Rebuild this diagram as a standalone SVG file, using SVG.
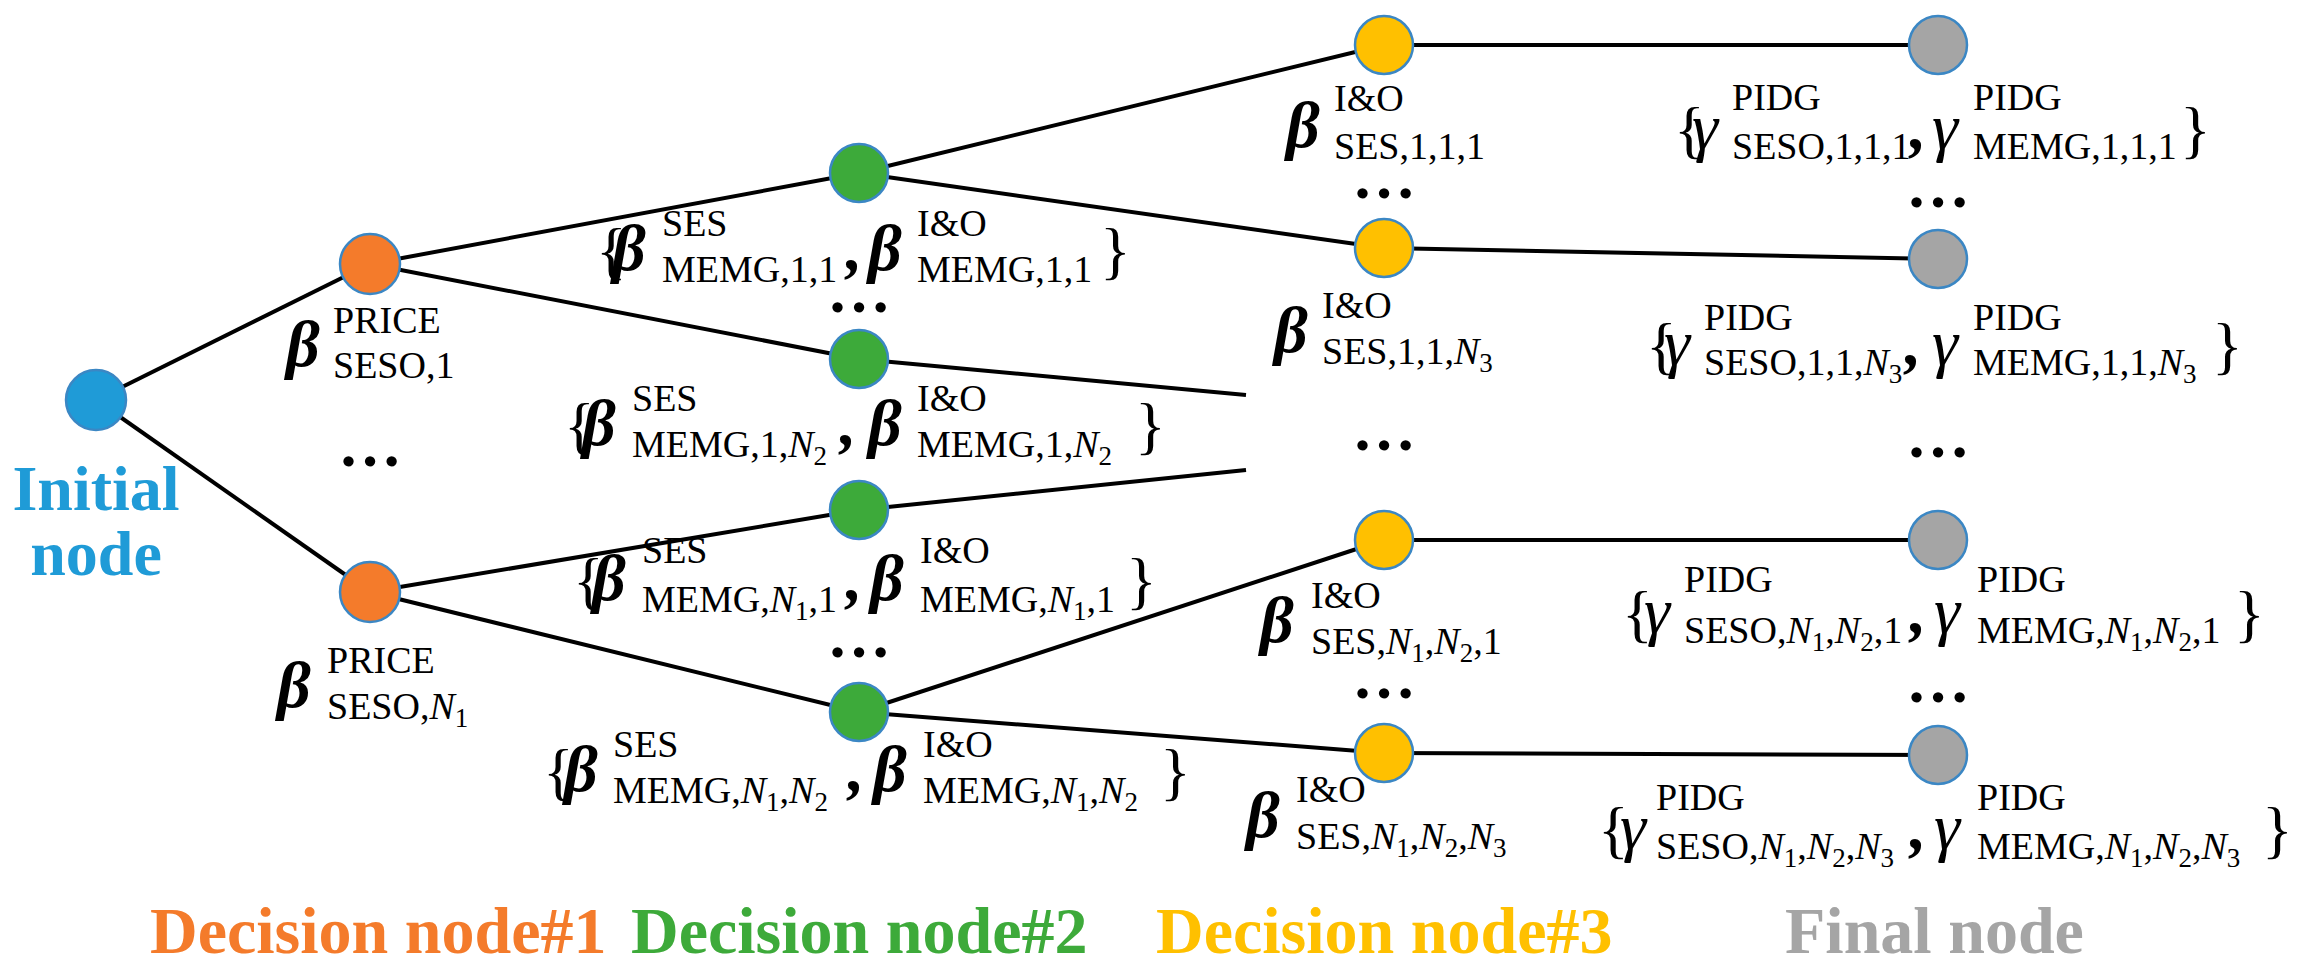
<svg xmlns="http://www.w3.org/2000/svg" width="2297" height="977" viewBox="0 0 2297 977" font-family="'Liberation Serif','DejaVu Serif','Times New Roman',serif">
<style>
text{font-family:'Liberation Serif','DejaVu Serif','Times New Roman',serif;fill:#000}
.b{font-size:66px;font-weight:bold;font-style:italic}
.g{font-size:66px;font-style:italic}
.s{font-size:38px}
.br{font-size:64px}
.i{font-style:italic}
.t{font-size:27px}
.d{font-size:64px;font-weight:bold;text-anchor:middle}
.lg{font-size:66px;font-weight:bold}
line{stroke:#000;stroke-width:4}
circle{stroke:#3B87C4;stroke-width:2.5}
</style>
<rect width="2297" height="977" fill="#fff"/>
<g id="connectors">
<line x1="96" y1="400" x2="370" y2="264"/><line x1="96" y1="400" x2="370" y2="592"/>
<line x1="370" y1="264" x2="859" y2="173"/><line x1="370" y1="264" x2="859" y2="359"/>
<line x1="370" y1="592" x2="859" y2="510"/><line x1="370" y1="592" x2="859" y2="712"/>
<line x1="859" y1="173" x2="1384" y2="45"/><line x1="859" y1="173" x2="1384" y2="248"/>
<line x1="859" y1="359" x2="1246" y2="395"/><line x1="1246" y1="470" x2="859" y2="510"/>
<line x1="859" y1="712" x2="1384" y2="540"/><line x1="859" y1="712" x2="1384" y2="753"/>
<line x1="1384" y1="45" x2="1938" y2="45"/><line x1="1384" y1="248" x2="1938" y2="259"/>
<line x1="1384" y1="540" x2="1938" y2="540"/><line x1="1384" y1="753" x2="1938" y2="755"/>
</g>
<g id="n0"><circle cx="96" cy="400" r="30" fill="#1F9BD7"/>
<text x="96" y="510" text-anchor="middle" style="font-size:64px;font-weight:bold;fill:#1F9BD7">Initial</text>
<text x="96" y="575" text-anchor="middle" style="font-size:64px;font-weight:bold;fill:#1F9BD7">node</text></g>
<g id="o1"><circle cx="370" cy="264" r="30" fill="#F47B2B"/>
<text x="286" y="366" class="b">β</text><text x="333" y="333" class="s">PRICE</text><text x="333" y="378" class="s">SESO,1</text></g>
<g id="o2"><circle cx="370" cy="592" r="30" fill="#F47B2B"/>
<text x="277" y="707" class="b">β</text><text x="327" y="673" class="s">PRICE</text><text x="327" y="719" class="s">SESO,<tspan class="i">N</tspan><tspan class="t" dy="8">1</tspan></text></g>
<text x="370" y="466" class="d">…</text>
<g id="g1"><circle cx="859" cy="173" r="29" fill="#3DAA3A"/>
<text x="596" y="272" class="br">{</text><text x="612" y="270" class="b">β</text><text x="662" y="236" class="s">SES</text><text x="662" y="282" class="s">MEMG,1,1</text>
<text x="846" y="270" class="b">,</text><text x="868" y="270" class="b">β</text><text x="917" y="236" class="s">I&amp;O</text><text x="917" y="282" class="s">MEMG,1,1</text><text x="1100" y="272" class="br">}</text></g>
<text x="859" y="312" class="d">…</text>
<g id="g2"><circle cx="859" cy="359" r="29" fill="#3DAA3A"/>
<text x="564" y="447" class="br">{</text><text x="582" y="445" class="b">β</text><text x="632" y="411" class="s">SES</text><text x="632" y="457" class="s">MEMG,1,<tspan class="i">N</tspan><tspan class="t" dy="8">2</tspan></text>
<text x="840" y="445" class="b">,</text><text x="868" y="445" class="b">β</text><text x="917" y="411" class="s">I&amp;O</text><text x="917" y="457" class="s">MEMG,1,<tspan class="i">N</tspan><tspan class="t" dy="8">2</tspan></text><text x="1135" y="447" class="br">}</text></g>
<g id="g3"><circle cx="859" cy="510" r="29" fill="#3DAA3A"/>
<text x="573" y="602" class="br">{</text><text x="592" y="600" class="b">β</text><text x="642" y="563" class="s">SES</text><text x="642" y="612" class="s">MEMG,<tspan class="i">N</tspan><tspan class="t" dy="8">1</tspan><tspan dy="-8">,1</tspan></text>
<text x="846" y="600" class="b">,</text><text x="870" y="600" class="b">β</text><text x="920" y="563" class="s">I&amp;O</text><text x="920" y="612" class="s">MEMG,<tspan class="i">N</tspan><tspan class="t" dy="8">1</tspan><tspan dy="-8">,1</tspan></text><text x="1126" y="602" class="br">}</text></g>
<text x="859" y="657" class="d">…</text>
<g id="g4"><circle cx="859" cy="712" r="29" fill="#3DAA3A"/>
<text x="543" y="793" class="br">{</text><text x="564" y="791" class="b">β</text><text x="613" y="757" class="s">SES</text><text x="613" y="803" class="s">MEMG,<tspan class="i">N</tspan><tspan class="t" dy="8">1</tspan><tspan dy="-8">,</tspan><tspan class="i">N</tspan><tspan class="t" dy="8">2</tspan></text>
<text x="848" y="791" class="b">,</text><text x="873" y="791" class="b">β</text><text x="923" y="757" class="s">I&amp;O</text><text x="923" y="803" class="s">MEMG,<tspan class="i">N</tspan><tspan class="t" dy="8">1</tspan><tspan dy="-8">,</tspan><tspan class="i">N</tspan><tspan class="t" dy="8">2</tspan></text><text x="1160" y="793" class="br">}</text></g>
<g id="y1"><circle cx="1384" cy="45" r="29" fill="#FFC000"/>
<text x="1286" y="147" class="b">β</text><text x="1334" y="111" class="s">I&amp;O</text><text x="1334" y="159" class="s">SES,1,1,1</text></g>
<text x="1384" y="198" class="d">…</text>
<g id="y2"><circle cx="1384" cy="248" r="29" fill="#FFC000"/>
<text x="1274" y="352" class="b">β</text><text x="1322" y="318" class="s">I&amp;O</text><text x="1322" y="364" class="s">SES,1,1,<tspan class="i">N</tspan><tspan class="t" dy="8">3</tspan></text></g>
<text x="1384" y="450" class="d">…</text>
<g id="y3"><circle cx="1384" cy="540" r="29" fill="#FFC000"/>
<text x="1260" y="642" class="b">β</text><text x="1311" y="608" class="s">I&amp;O</text><text x="1311" y="654" class="s">SES,<tspan class="i">N</tspan><tspan class="t" dy="8">1</tspan><tspan dy="-8">,</tspan><tspan class="i">N</tspan><tspan class="t" dy="8">2</tspan><tspan dy="-8">,1</tspan></text></g>
<text x="1384" y="698" class="d">…</text>
<g id="y4"><circle cx="1384" cy="753" r="29" fill="#FFC000"/>
<text x="1246" y="837" class="b">β</text><text x="1296" y="802" class="s">I&amp;O</text><text x="1296" y="849" class="s">SES,<tspan class="i">N</tspan><tspan class="t" dy="8">1</tspan><tspan dy="-8">,</tspan><tspan class="i">N</tspan><tspan class="t" dy="8">2</tspan><tspan dy="-8">,</tspan><tspan class="i">N</tspan><tspan class="t" dy="8">3</tspan></text></g>
<g id="f1"><circle cx="1938" cy="45" r="29" fill="#A5A5A5"/>
<text x="1674" y="151" class="br">{</text><text x="1692" y="149" class="g">γ</text><text x="1732" y="110" class="s">PIDG</text><text x="1732" y="159" class="s">SESO,1,1,1</text>
<text x="1910" y="149" class="b">,</text><text x="1932" y="149" class="g">γ</text><text x="1973" y="110" class="s">PIDG</text><text x="1973" y="159" class="s">MEMG,1,1,1</text><text x="2180" y="151" class="br">}</text></g>
<text x="1938" y="207" class="d">…</text>
<g id="f2"><circle cx="1938" cy="259" r="29" fill="#A5A5A5"/>
<text x="1646" y="367" class="br">{</text><text x="1664" y="365" class="g">γ</text><text x="1704" y="330" class="s">PIDG</text><text x="1704" y="375" class="s">SESO,1,1,<tspan class="i">N</tspan><tspan class="t" dy="8">3</tspan></text>
<text x="1905" y="365" class="b">,</text><text x="1932" y="365" class="g">γ</text><text x="1973" y="330" class="s">PIDG</text><text x="1973" y="375" class="s">MEMG,1,1,<tspan class="i">N</tspan><tspan class="t" dy="8">3</tspan></text><text x="2212" y="367" class="br">}</text></g>
<text x="1938" y="457" class="d">…</text>
<g id="f3"><circle cx="1938" cy="540" r="29" fill="#A5A5A5"/>
<text x="1622" y="635" class="br">{</text><text x="1644" y="633" class="g">γ</text><text x="1684" y="592" class="s">PIDG</text><text x="1684" y="643" class="s">SESO,<tspan class="i">N</tspan><tspan class="t" dy="8">1</tspan><tspan dy="-8">,</tspan><tspan class="i">N</tspan><tspan class="t" dy="8">2</tspan><tspan dy="-8">,1</tspan></text>
<text x="1910" y="633" class="b">,</text><text x="1934" y="633" class="g">γ</text><text x="1977" y="592" class="s">PIDG</text><text x="1977" y="643" class="s">MEMG,<tspan class="i">N</tspan><tspan class="t" dy="8">1</tspan><tspan dy="-8">,</tspan><tspan class="i">N</tspan><tspan class="t" dy="8">2</tspan><tspan dy="-8">,1</tspan></text><text x="2234" y="635" class="br">}</text></g>
<text x="1938" y="702" class="d">…</text>
<g id="f4"><circle cx="1938" cy="755" r="29" fill="#A5A5A5"/>
<text x="1598" y="851" class="br">{</text><text x="1620" y="849" class="g">γ</text><text x="1656" y="810" class="s">PIDG</text><text x="1656" y="859" class="s">SESO,<tspan class="i">N</tspan><tspan class="t" dy="8">1</tspan><tspan dy="-8">,</tspan><tspan class="i">N</tspan><tspan class="t" dy="8">2</tspan><tspan dy="-8">,</tspan><tspan class="i">N</tspan><tspan class="t" dy="8">3</tspan></text>
<text x="1910" y="849" class="b">,</text><text x="1934" y="849" class="g">γ</text><text x="1977" y="810" class="s">PIDG</text><text x="1977" y="859" class="s">MEMG,<tspan class="i">N</tspan><tspan class="t" dy="8">1</tspan><tspan dy="-8">,</tspan><tspan class="i">N</tspan><tspan class="t" dy="8">2</tspan><tspan dy="-8">,</tspan><tspan class="i">N</tspan><tspan class="t" dy="8">3</tspan></text><text x="2262" y="851" class="br">}</text></g>
<g id="legend">
<text x="150" y="953" class="lg" style="fill:#F47B2B">Decision node#1</text>
<text x="631" y="953" class="lg" style="fill:#3DAA3A">Decision node#2</text>
<text x="1156" y="953" class="lg" style="fill:#FFC000">Decision node#3</text>
<text x="1785" y="953" class="lg" style="fill:#A5A5A5">Final node</text>
</g>
</svg>
